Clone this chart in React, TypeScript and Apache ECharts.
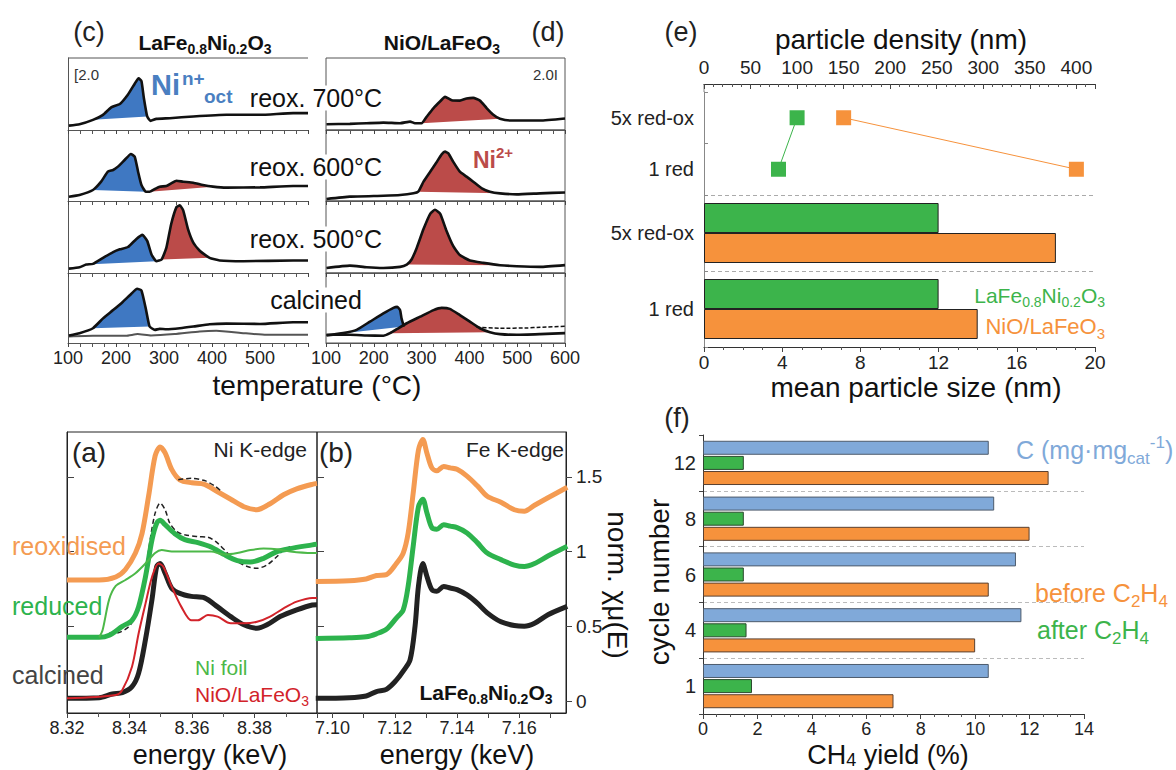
import React, { useEffect, useRef } from 'react';
import * as echarts from 'echarts';

const FONT = '"Liberation Sans", Arial, Helvetica, sans-serif';

// ---------------- (c) TPR LaFe0.8Ni0.2O3 : [T °C, signal a.u.] (each subpanel 0..10) ----------------
const c700 = [[102,0.61],[124,0.80],[152,1.41],[173,2.11],[190,3.15],[208,3.61],[225,4.93],[239,6.43],[247,7.18],[253,6.81],[258,4.46],[265,1.88],[272,1.27],[284,1.55],[312,1.64],[361,1.88],[430,2.11],[500,2.11],[569,2.35],[600,2.35]];
const c600 = [[102,0.61],[124,0.85],[152,1.55],[169,2.72],[183,4.13],[194,4.37],[204,4.84],[218,5.77],[231,6.62],[239,6.24],[246,4.13],[253,2.25],[262,1.31],[270,1.31],[281,1.69],[291,2.02],[305,2.11],[315,2.49],[326,2.86],[340,2.72],[361,2.58],[381,2.25],[402,2.02],[430,1.88],[500,1.92],[569,2.11],[600,2.11]];
const c500 = [[102,0.61],[124,0.80],[138,1.17],[152,1.27],[173,2.11],[194,2.91],[208,3.29],[225,3.61],[242,4.70],[255,5.30],[265,4.46],[274,2.58],[284,1.64],[295,1.88],[305,3.52],[315,6.81],[326,9.15],[333,9.39],[340,8.69],[350,6.10],[361,4.23],[375,3.05],[395,2.11],[416,1.74],[465,1.64],[569,1.74],[600,1.74]];
const cCal = [[102,1.08],[124,1.41],[152,2.11],[173,3.52],[194,4.70],[214,5.87],[232,7.04],[244,7.75],[253,7.51],[262,4.93],[270,2.35],[281,1.88],[291,2.02],[305,1.97],[333,2.11],[361,2.35],[395,2.68],[430,2.77],[500,2.72],[569,2.96],[600,2.96]];
const cCalRef = [[102,0.94],[152,1.03],[221,1.03],[245,1.27],[273,1.08],[322,1.27],[374,1.64],[409,1.74],[465,1.41],[513,1.17],[569,1.17],[600,1.17]];

// ---------------- (d) TPR NiO/LaFeO3 ----------------
const d700 = [[101,0.80],[150,0.85],[185,0.94],[220,1.03],[255,0.94],[276,1.17],[286,0.94],[300,0.94],[311,1.88],[325,3.05],[339,3.99],[349,4.60],[363,4.13],[380,4.08],[394,4.37],[408,4.46],[422,4.08],[436,3.05],[450,2.11],[464,1.55],[485,1.31],[520,1.31],[548,1.31],[600,1.6]];
const d600 = [[101,0.28],[150,0.61],[220,0.75],[255,0.85],[283,1.08],[293,1.31],[304,2.72],[318,4.13],[332,5.54],[342,6.57],[349,6.95],[356,6.71],[366,5.54],[380,4.13],[394,3.43],[408,2.72],[426,1.78],[443,1.31],[464,1.08],[499,0.94],[548,1.08],[600,1.2]];
const d500 = [[101,0.70],[150,1.03],[185,0.80],[220,0.70],[255,0.85],[269,1.17],[279,1.88],[290,3.52],[304,6.10],[318,8.22],[328,8.78],[339,8.22],[352,5.87],[366,3.76],[380,2.49],[401,1.74],[429,1.41],[464,1.08],[499,0.94],[548,0.85],[600,1.1]];
const dCal = [[101,1.17],[150,1.17],[185,1.08],[220,1.03],[234,1.41],[248,1.97],[269,2.82],[297,3.76],[325,4.70],[342,5.02],[359,4.88],[380,3.99],[401,3.05],[422,2.11],[443,1.55],[464,1.27],[499,1.17],[548,1.27],[600,1.41]];
const dCalNi = [[101,1.08],[136,1.41],[164,1.88],[192,3.05],[220,4.23],[241,5.02],[249,5.16],[255,4.70],[258,3.52],[263,2.35]];
const dCalTail = [[415,2.25],[464,2.11],[520,2.15],[548,2.25],[600,2.4]];

// peak-area ranges (°C)
const fillsBlue = { c700: [152, 265], c600: [152, 262], c500: [138, 284], cCal: [152, 270], dCalNi: [136, 263] };
const fillsRed = { c600: [270, 402], c500: [295, 395], d700: [300, 464], d600: [293, 464], d500: [269, 464], dCal: [234, 443] };

// ---------------- (e) particles ----------------
const eCats = ['1 red', '5x red-ox'];
const eSizeLFNO = [12, 12];
const eSizeNiO = [14, 18];
const eDensLFNO = [[80, '1 red'], [100, '5x red-ox']];
const eDensNiO = [[150, '5x red-ox'], [400, '1 red']];

// ---------------- (f) cycles ----------------
const fCats = ['1', '4', '6', '8', '12'];
const fCarbon = [10.5, 11.7, 11.5, 10.7, 10.5];
const fAfter = [1.8, 1.6, 1.5, 1.5, 1.5];
const fBefore = [7.0, 10.0, 10.5, 12.0, 12.7];

// ---------------- (a) Ni K-edge [keV, norm mu] ----------------
const aReox = [[8.32,0.81],[8.3303,0.81],[8.3356,0.83],[8.3387,0.88],[8.3419,0.99],[8.344,1.12],[8.3461,1.37],[8.3482,1.64],[8.3498,1.70],[8.3514,1.66],[8.3535,1.55],[8.3561,1.48],[8.36,1.46],[8.364,1.45],[8.3682,1.40],[8.3724,1.35],[8.3766,1.30],[8.3808,1.28],[8.385,1.32],[8.3893,1.38],[8.3935,1.42],[8.3985,1.45],[8.40,1.455]];
const aRed = [[8.32,0.426],[8.3303,0.426],[8.3335,0.44],[8.3377,0.50],[8.3408,0.54],[8.3429,0.63],[8.3451,0.83],[8.3472,1.08],[8.3487,1.19],[8.3498,1.21],[8.3514,1.18],[8.3545,1.12],[8.3577,1.08],[8.3619,1.06],[8.3661,1.03],[8.3703,0.98],[8.3745,0.94],[8.3787,0.93],[8.3829,0.955],[8.3872,1.00],[8.3914,1.02],[8.3985,1.045],[8.40,1.05]];
const aCal = [[8.32,0.018],[8.3303,0.022],[8.3345,0.047],[8.3377,0.056],[8.3408,0.096],[8.3429,0.185],[8.3451,0.41],[8.3472,0.68],[8.3487,0.90],[8.3498,0.92],[8.3514,0.855],[8.3535,0.755],[8.3561,0.72],[8.3598,0.70],[8.364,0.69],[8.3682,0.63],[8.3724,0.565],[8.3766,0.51],[8.3808,0.487],[8.384,0.51],[8.3882,0.565],[8.3935,0.61],[8.3985,0.643],[8.40,0.645]];
const aNiFoil = [[8.3303,0.426],[8.3314,0.475],[8.3335,0.68],[8.3356,0.77],[8.3387,0.81],[8.3419,0.855],[8.3451,0.92],[8.3482,0.99],[8.3503,1.01],[8.3535,1.0],[8.3577,1.0],[8.3619,1.0],[8.3661,1.0],[8.3703,0.98],[8.3745,0.99],[8.3787,1.01],[8.3829,1.02],[8.3872,1.016],[8.3914,1.0],[8.3985,0.99],[8.40,0.99]];
const aNiO = [[8.32,0.018],[8.3356,0.04],[8.3377,0.074],[8.3408,0.23],[8.3429,0.45],[8.3451,0.65],[8.3472,0.83],[8.3493,0.92],[8.3508,0.90],[8.3535,0.765],[8.3566,0.63],[8.3598,0.54],[8.3619,0.54],[8.3651,0.576],[8.3682,0.565],[8.3724,0.52],[8.3766,0.52],[8.3808,0.53],[8.385,0.565],[8.3893,0.62],[8.3935,0.665],[8.3985,0.69],[8.40,0.69]];
const aDashTop = [[8.3556,1.48],[8.3598,1.49],[8.364,1.475],[8.3672,1.44],[8.369,1.41]];
const aDashRed = [[8.3335,0.453],[8.3366,0.458],[8.3398,0.498],[8.3419,0.565],[8.3435,0.676],[8.3451,0.855],[8.3466,1.078],[8.3482,1.257],[8.3498,1.324],[8.3514,1.279],[8.3529,1.19],[8.3551,1.134],[8.3577,1.112],[8.3619,1.10],[8.3651,1.096],[8.3682,1.056],[8.3714,0.989],[8.3745,0.933],[8.3777,0.90],[8.3808,0.888],[8.384,0.911],[8.3872,0.967],[8.3893,1.011],[8.3914,1.033]];

// ---------------- (b) Fe K-edge ----------------
const bE = [7.0946,7.1054,7.1108,7.1141,7.1173,7.1205,7.1227,7.1243,7.1259,7.1276,7.129,7.1303,7.1319,7.1335,7.1357,7.1378,7.14,7.1432,7.1465,7.1497,7.1541,7.1584,7.1616,7.1649,7.1692,7.1754];
const bReox = [0.80,0.805,0.817,0.84,0.846,0.92,0.99,1.125,1.39,1.68,1.75,1.66,1.56,1.54,1.57,1.56,1.55,1.505,1.44,1.37,1.33,1.28,1.27,1.31,1.36,1.43];
const bRed = [0.418,0.423,0.43,0.45,0.48,0.555,0.61,0.77,1.035,1.30,1.35,1.26,1.16,1.15,1.18,1.17,1.16,1.125,1.06,0.99,0.946,0.91,0.90,0.92,0.97,1.035];
const bCalE = [7.0946,7.1054,7.1108,7.1141,7.1173,7.1205,7.1227,7.1249,7.1265,7.1276,7.129,7.1303,7.1319,7.1335,7.1357,7.1378,7.14,7.1432,7.1465,7.1497,7.1541,7.1584,7.1616,7.1649,7.1692,7.1754];
const bCal = [0.018,0.022,0.034,0.063,0.078,0.14,0.20,0.275,0.50,0.77,0.92,0.835,0.745,0.734,0.767,0.756,0.745,0.71,0.655,0.59,0.53,0.505,0.50,0.52,0.577,0.633];

const xanesTicks = [0, 0.5, 1, 1.5];
const feLabelTicks = [7.10, 7.12, 7.14, 7.16];
const feMinorTicks = [7.10, 7.11, 7.12, 7.13, 7.14, 7.15, 7.16, 7.17];

const BLUE_FILL = '#3f78c2';
const RED_FILL = '#bb4b49';
const E_GREEN = '#3cb44b';
const E_ORANGE = '#f6923c';
const X_ORANGE = '#f49b52';
const X_GREEN = '#2db34d';
const F_BLUE = '#80a9d9';

function zipXY(xs: number[], ys: number[]) { return xs.map((x, i) => [x, ys[i]]); }

function T(x: number, y: number, text: string, size: number, color: string, o: any = {}) {
  return {
    type: 'text', x, y, rotation: o.rot || 0, z: 50, silent: true,
    style: {
      text, fill: color, fontSize: size, fontFamily: FONT, fontWeight: o.bold ? 'bold' : 'normal',
      textAlign: o.align || 'left', align: o.align || 'left',
      textVerticalAlign: 'middle', verticalAlign: 'middle',
      backgroundColor: o.bg, padding: o.pad, rich: o.rich,
    },
  };
}
function chemRich(size: number, color: string, bold: boolean, lh = 1.3) {
  const base = { fontFamily: FONT, fontWeight: bold ? 'bold' : 'normal', fill: color, color };
  const sub = Math.round(size * 0.66);
  return {
    n: { ...base, fontSize: size, lineHeight: Math.round(size * lh) },
    s: { ...base, fontSize: sub, lineHeight: sub, verticalAlign: 'bottom' },
    p: { ...base, fontSize: sub, lineHeight: sub, verticalAlign: 'top' },
  };
}
const LFNO = '{n|LaFe}{s|0.8}{n|Ni}{s|0.2}{n|O}{s|3}';
const NIO = '{n|NiO/LaFeO}{s|3}';

function buildOption() {
  const cTops = [58, 130, 201, 273];
  const cHeights = [72, 71, 72, 70];
  const grid: any[] = [];
  for (let i = 0; i < 4; i++) grid.push({ left: 68, top: cTops[i], width: 240, height: cHeights[i], show: false });
  for (let i = 0; i < 4; i++) grid.push({ left: 326, top: cTops[i], width: 239, height: cHeights[i], show: true, borderColor: '#555', borderWidth: 1, backgroundColor: 'transparent' });
  grid.push({ left: 704, top: 92, width: 391, height: 103 }); // 8
  grid.push({ left: 704, top: 195, width: 391, height: 152 }); // 9
  grid.push({ left: 67, top: 432, width: 250, height: 281, show: true, borderColor: '#222', borderWidth: 1 }); // 10
  grid.push({ left: 317, top: 432, width: 249, height: 281, show: true, borderColor: '#222', borderWidth: 1 }); // 11
  grid.push({ left: 703, top: 435, width: 381, height: 279 }); // 12

  const lab = (size: number, margin: number, extra: any = {}) => ({ show: true, color: '#222', fontSize: size, fontFamily: FONT, margin, ...extra });
  const line = (c = '#444') => ({ show: true, onZero: false, lineStyle: { color: c, width: 1 } });
  const tick = (len: number, inside = false, extra: any = {}) => ({ show: true, length: len, inside, lineStyle: { color: '#444' }, ...extra });
  const minor = (n: number, len: number) => ({ show: true, splitNumber: n, length: len, lineStyle: { color: '#555' } });

  const xAxis: any[] = [];
  const yAxis: any[] = [];
  for (let i = 0; i < 8; i++) {
    const bottom = i === 3 || i === 7;
    xAxis.push({
      type: 'value', gridIndex: i, min: 100, max: 600, interval: 100,
      axisLine: line('#555'), axisTick: tick(4), minorTick: minor(4, 4),
      splitLine: { show: false }, minorSplitLine: { show: false },
      axisLabel: bottom ? lab(18, 6, { showMaxLabel: i === 7 }) : { show: false },
    });
    yAxis.push({
      type: 'value', gridIndex: i, min: 0, max: 10,
      axisLine: i < 4 ? line('#555') : { show: false }, axisTick: { show: false }, axisLabel: { show: false }, splitLine: { show: false },
    });
  }
  // (e) scatter
  xAxis.push({ type: 'value', gridIndex: 8, position: 'top', offset: 8, min: 0, max: 420, interval: 50, axisLine: line('#333'), axisTick: tick(5, true), minorTick: minor(5, 3), splitLine: { show: false }, axisLabel: lab(19, 7, { showMaxLabel: false }) });
  yAxis.push({ type: 'category', gridIndex: 8, data: eCats, axisLine: line('#888'), axisTick: tick(4, true, { lineStyle: { color: '#888' } }), axisLabel: lab(20, 10), splitLine: { show: false } });
  // (e) bars
  xAxis.push({ type: 'value', gridIndex: 9, min: 0, max: 20, interval: 4, axisLine: line('#333'), axisTick: tick(5), minorTick: minor(4, 3), splitLine: { show: false }, axisLabel: lab(19, 6) });
  yAxis.push({ type: 'category', gridIndex: 9, data: eCats, axisLine: line('#888'), axisTick: tick(4, true, { lineStyle: { color: '#888' } }), axisLabel: lab(20, 10), splitLine: { show: true, lineStyle: { color: '#aaa', type: [4, 3], width: 1 } } });
  // (a)
  xAxis.push({ type: 'value', gridIndex: 10, min: 8.32, max: 8.40, interval: 0.02, axisLine: line('#222'), axisTick: tick(5), minorTick: minor(2, 4), splitLine: { show: false }, axisLabel: lab(18, 6, { showMaxLabel: false, formatter: (v: number) => v.toFixed(2) }) });
  yAxis.push({ type: 'value', gridIndex: 10, min: -0.08, max: 1.8, axisLine: line('#222'), axisTick: tick(7, true, { customValues: [0.5, 1, 1.5] }), axisLabel: { show: false }, splitLine: { show: false } });
  // (b)
  xAxis.push({ type: 'value', gridIndex: 11, min: 7.095, max: 7.175, axisLine: line('#222'), axisTick: tick(5, false, { customValues: feMinorTicks }), splitLine: { show: false }, axisLabel: lab(18, 6, { customValues: feLabelTicks, formatter: (v: number) => v.toFixed(2) }) });
  yAxis.push({ type: 'value', gridIndex: 11, position: 'right', min: -0.08, max: 1.8, axisLine: line('#222'), axisTick: tick(6, false, { customValues: xanesTicks }), axisLabel: lab(19, 10, { customValues: xanesTicks, formatter: (v: number) => String(v) }), splitLine: { show: false } });
  // (f)
  xAxis.push({ type: 'value', gridIndex: 12, min: 0, max: 14, interval: 2, axisLine: line('#333'), axisTick: tick(5), minorTick: minor(4, 3), splitLine: { show: false }, axisLabel: lab(18, 6) });
  yAxis.push({ type: 'category', gridIndex: 12, data: fCats, axisLine: line('#333'), axisTick: tick(4), axisLabel: lab(20, 7), splitLine: { show: true, showMaxLine: false, showMinLine: false, lineStyle: { color: '#bbb', type: [4, 3], width: 1 } } });
  // (b) extra left inner ticks (index 13)
  yAxis.push({ type: 'value', gridIndex: 11, position: 'left', min: -0.08, max: 1.8, axisLine: { show: false }, axisTick: tick(7, true, { customValues: [0.5, 1, 1.5] }), axisLabel: { show: false }, splitLine: { show: false } });

  const series: any[] = [];
  const L = (xi: number, data: any[], color: string, width: number, extra: any = {}) => ({
    type: 'line', xAxisIndex: xi, yAxisIndex: extra.yi ?? xi, data, showSymbol: false, symbol: 'none', smooth: extra.smooth ?? 0.15,
    lineStyle: { color, width, type: extra.dash || 'solid' }, z: extra.z ?? 3, silent: true,
  });
  const F = (gi: number, curve: number[][], range: number[], color: string) => {
    const pts = curve.filter((p) => p[0] >= range[0] && p[0] <= range[1]);
    return {
      type: 'custom', xAxisIndex: gi, yAxisIndex: gi, data: [pts[0]], silent: true, z: 2, clip: true,
      renderItem: (params: any, api: any) => params.dataIndex === 0 ? ({
        type: 'polygon', shape: { points: pts.map((p) => api.coord(p)) }, style: { fill: color, stroke: 'none' },
      }) : null,
    };
  };
  const BK = '#111';
  // (c)
  series.push(F(0, c700, fillsBlue.c700, BLUE_FILL), L(0, c700, BK, 2.6));
  series.push(F(1, c600, fillsBlue.c600, BLUE_FILL), F(1, c600, fillsRed.c600, RED_FILL), L(1, c600, BK, 2.6));
  series.push(F(2, c500, fillsBlue.c500, BLUE_FILL), F(2, c500, fillsRed.c500, RED_FILL), L(2, c500, BK, 2.6));
  series.push(F(3, cCal, fillsBlue.cCal, BLUE_FILL), L(3, cCalRef, '#555', 2), L(3, cCal, BK, 2.6));
  // (d)
  series.push(F(4, d700, fillsRed.d700, RED_FILL), L(4, d700, BK, 2.6));
  series.push(F(5, d600, fillsRed.d600, RED_FILL), L(5, d600, BK, 2.6));
  series.push(F(6, d500, fillsRed.d500, RED_FILL), L(6, d500, BK, 2.6));
  series.push(F(7, dCalNi, fillsBlue.dCalNi, BLUE_FILL), F(7, dCal, fillsRed.dCal, RED_FILL), L(7, dCalNi, BK, 2.6), L(7, dCal, BK, 2.6), L(7, dCalTail, BK, 1.5, { dash: [4, 2] }));
  // (e)
  series.push({ type: 'line', xAxisIndex: 8, yAxisIndex: 8, data: eDensLFNO, symbol: 'rect', symbolSize: 15, lineStyle: { color: E_GREEN, width: 1 }, itemStyle: { color: E_GREEN }, silent: true });
  series.push({ type: 'line', xAxisIndex: 8, yAxisIndex: 8, data: eDensNiO, symbol: 'rect', symbolSize: 15, lineStyle: { color: E_ORANGE, width: 1 }, itemStyle: { color: E_ORANGE }, silent: true });
  series.push({ type: 'bar', xAxisIndex: 9, yAxisIndex: 9, data: eSizeLFNO, barWidth: 30, barGap: '0%', itemStyle: { color: E_GREEN, borderColor: '#222', borderWidth: 1 }, silent: true });
  series.push({ type: 'bar', xAxisIndex: 9, yAxisIndex: 9, data: eSizeNiO, barWidth: 30, barGap: '0%', itemStyle: { color: E_ORANGE, borderColor: '#222', borderWidth: 1 }, silent: true });
  // (a)
  series.push(L(10, aDashRed, '#222', 1.5, { dash: [5, 3], z: 2, smooth: 0.3 }));
  series.push(L(10, aReox, X_ORANGE, 5, { smooth: 0.3 }), L(10, aRed, X_GREEN, 5, { smooth: 0.3 }), L(10, aCal, '#222', 5, { smooth: 0.3 }));
  series.push(L(10, aNiFoil, '#4cb848', 2, { smooth: 0.3, z: 4 }), L(10, aNiO, '#d2232a', 2, { smooth: 0.3, z: 4 }));
  series.push(L(10, aDashTop, '#222', 1.5, { dash: [5, 3], z: 4, smooth: 0.3 }));
  // (b)
  series.push(L(11, zipXY(bE, bReox), X_ORANGE, 5, { smooth: 0.3 }), L(11, zipXY(bE, bRed), X_GREEN, 5, { smooth: 0.3 }), L(11, zipXY(bCalE, bCal), '#222', 5, { smooth: 0.3 }));
  // (f)
  const fb = (data: number[], color: string, bc: string) => ({ type: 'bar', xAxisIndex: 12, yAxisIndex: 12, data, barWidth: 14, barGap: '8%', itemStyle: { color, borderColor: bc, borderWidth: 1 }, silent: true });
  series.push(fb(fCarbon, F_BLUE, '#4d5b6c'), fb(fAfter, E_GREEN, '#2b4a2e'), fb(fBefore, E_ORANGE, '#5a4030'));

  const graphic: any[] = [
    { type: 'line', shape: { x1: 68, y1: 58, x2: 308, y2: 58 }, style: { stroke: '#555', lineWidth: 1 }, silent: true },
    { type: 'line', shape: { x1: 704, y1: 84, x2: 704, y2: 92 }, style: { stroke: '#888', lineWidth: 1 }, silent: true },
    // (c)/(d)
    T(89, 32, '(c)', 27, '#222', { align: 'center' }),
    T(205, 42, LFNO, 21, '#111', { align: 'center', rich: chemRich(21, '#111', true) }),
    T(442, 42, NIO, 21, '#111', { align: 'center', rich: chemRich(21, '#111', true) }),
    T(548, 32, '(d)', 27, '#222', { align: 'center' }),
    T(74, 74, '[2.0', 15, '#333'),
    T(558, 74, '2.0I', 15, '#333', { align: 'right' }),
    T(151, 85, 'Ni', 29, '#4a7fc1', { bold: true }),
    T(182, 78, 'n+', 19, '#4a7fc1', { bold: true }),
    T(204, 96, 'oct', 19, '#4a7fc1', { bold: true }),
    T(316, 98, 'reox. 700°C', 25, '#111', { align: 'center', bg: '#fff', pad: [0, 2] }),
    T(316, 167, 'reox. 600°C', 25, '#111', { align: 'center', bg: '#fff', pad: [0, 2] }),
    T(316, 239, 'reox. 500°C', 25, '#111', { align: 'center', bg: '#fff', pad: [0, 2] }),
    T(316, 300, 'calcined', 25, '#111', { align: 'center', bg: '#fff', pad: [0, 2] }),
    T(473, 160, '{n|Ni}{p|2+}', 23, RED_FILL, { rich: chemRich(23, RED_FILL, true) }),
    T(317, 385, 'temperature (°C)', 28, '#111', { align: 'center' }),
    // (e)
    T(681, 32, '(e)', 27, '#222', { align: 'center' }),
    T(901, 39, 'particle density (nm)', 28, '#111', { align: 'center' }),
    T(916, 387, 'mean particle size (nm)', 28, '#111', { align: 'center' }),
    T(1105, 295, LFNO, 21, E_GREEN, { align: 'right', rich: chemRich(21, E_GREEN, false) }),
    T(1105, 326, NIO, 22, E_ORANGE, { align: 'right', rich: chemRich(22, E_ORANGE, false) }),
    // (a)/(b)
    T(89, 452, '(a)', 28, '#222', { align: 'center' }),
    T(307, 449, 'Ni K-edge', 21, '#222', { align: 'right' }),
    T(336, 452, '(b)', 28, '#222', { align: 'center' }),
    T(564, 449, 'Fe K-edge', 21, '#222', { align: 'right' }),
    T(12, 546, 'reoxidised', 25, X_ORANGE),
    T(12, 606, 'reduced', 25, X_GREEN),
    T(12, 675, 'calcined', 25, '#444'),
    T(195, 667, 'Ni foil', 21, '#4cb848'),
    T(195, 694, NIO, 21, '#d2232a', { rich: chemRich(21, '#d2232a', false) }),
    T(486, 692, LFNO, 21, '#111', { align: 'center', rich: chemRich(21, '#111', true) }),
    T(210, 755, 'energy (keV)', 27, '#111', { align: 'center' }),
    T(457, 755, 'energy (keV)', 27, '#111', { align: 'center' }),
    T(617, 585, 'norm. χμ(E)', 28, '#111', { align: 'center', rot: -Math.PI / 2 }),
    // (f)
    T(677, 418, '(f)', 27, '#222', { align: 'center' }),
    T(659, 582, 'cycle number', 28, '#111', { align: 'center', rot: Math.PI / 2 }),
    T(888, 755, '{n|CH}{s|4}{n| yield (%)}', 27, '#111', { align: 'center', rich: chemRich(27, '#111', false, 1.05) }),
    T(1016, 450, '{n|C (mg·mg}{s|cat}{p|-1}{n|)}', 25, F_BLUE, { rich: chemRich(25, F_BLUE, false) }),
    T(1035, 593, '{n|before C}{s|2}{n|H}{s|4}', 25, E_ORANGE, { rich: chemRich(25, E_ORANGE, false) }),
    T(1037, 630, '{n|after C}{s|2}{n|H}{s|4}', 25, E_GREEN, { rich: chemRich(25, E_GREEN, false) }),
  ];

  return {
    animation: false,
    backgroundColor: '#fff',
    textStyle: { fontFamily: FONT },
    grid, xAxis, yAxis, series, graphic,
  };
}

export default function App() {
  const ref = useRef<HTMLDivElement>(null);
  useEffect(() => {
    document.body.style.margin = '0';
    const chart = echarts.init(ref.current as HTMLDivElement, null, { renderer: 'svg' });
    chart.setOption(buildOption() as any);
    return () => chart.dispose();
  }, []);
  return <div ref={ref} style={{ width: 1176, height: 770 }} />;
}
